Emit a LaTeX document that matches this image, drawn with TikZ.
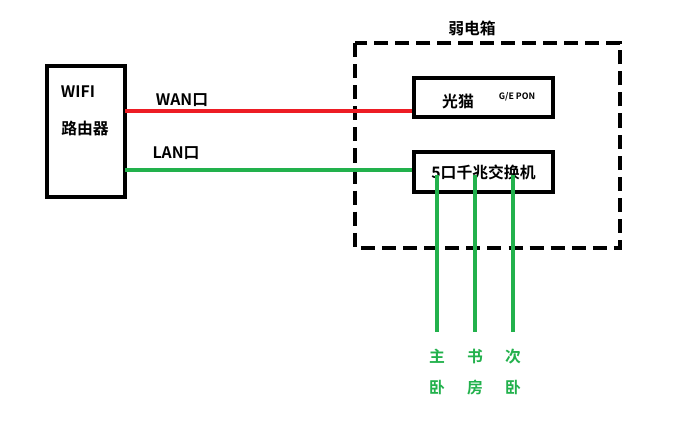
\documentclass[tikz,border=0pt]{standalone}
\usepackage{fontspec}
\setmainfont{Noto Sans CJK SC}[BoldFont={* Bold}]
\usetikzlibrary{positioning}
\definecolor{wanred}{RGB}{237,28,36}
\definecolor{langreen}{RGB}{34,177,76}
\tikzset{
  box/.style={draw,line width=3pt},
  lbl/.style={font=\bfseries\fontsize{13.5}{15}\selectfont,inner sep=0pt},
  room/.style={lbl,text=langreen,align=center,font=\bfseries\fontsize{13.5}{26}\selectfont},
  cable/.style={line width=3pt}
}
\begin{document}
\begin{tikzpicture}[x=0.03cm,y=-0.03cm]
\useasboundingbox (0,0) rectangle (697,421);
% weak-current box
\draw[line width=3.5pt,dash pattern=on 12pt off 6pt] (355,43) rectangle (620,248);
\node[lbl] (xiang) at (472,28) {弱电箱};
% router
\node[box,minimum width=2.34cm,minimum height=3.93cm] (router) at (86,131.5) {};
\node[lbl] (wifi) at (78,92) {WIFI};
\node[lbl] (luyou) at (85,128) {路由器};
% modem and switch
\node[box,minimum width=4.17cm,minimum height=1.17cm] (modem) at (483.5,97.5) {};
\node[lbl] at (458,101) {光猫};
\node[lbl,font=\bfseries\fontsize{7.5}{8}\selectfont] at (517,97) {G/E PON};
\node[box,minimum width=4.17cm,minimum height=1.2cm,lbl,inner sep=0pt] (switch) at (483.5,172) {5口千兆交换机};
% links
\coordinate (r1) at (125,111);
\coordinate (r2) at (125,170);
\draw[cable,wanred] (r1) -- (r1 -| modem.west);
\draw[cable,langreen] (r2) -- (r2 -| switch.west);
\node[lbl] (wan) at (182,100) {WAN口};
\node[lbl] (lan) at (176,153) {LAN口};
% rooms
\foreach \x/\a/\b [count=\i] in {437/主/卧,475/书/房,513/次/卧}{
  \coordinate (t\i) at (\x,175);
  \coordinate (e\i) at (\x,332);
  \draw[cable,langreen] (t\i) -- (e\i);
  \node[room] (room\i) at (\x,372) {\a\\\b};
}
\end{tikzpicture}
\end{document}
